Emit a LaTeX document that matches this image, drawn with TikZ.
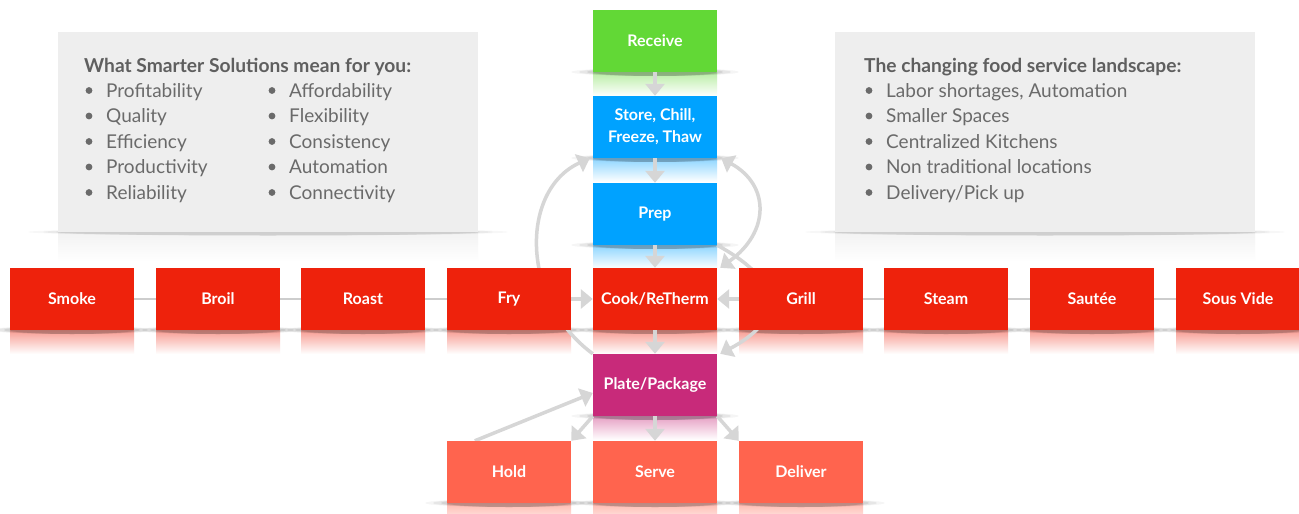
\documentclass[tikz,border=0pt]{standalone}
\usepackage{fontspec}
\setmainfont{Lato}
\usetikzlibrary{arrows.meta}

\definecolor{rcvgreen}{HTML}{62D836}
\definecolor{stepblue}{HTML}{00A2FF}
\definecolor{cookred}{HTML}{EE220C}
\definecolor{platemag}{HTML}{C82A7A}
\definecolor{outsalmon}{HTML}{FF644E}
\definecolor{linkgrey}{HTML}{D6D6D6}
\definecolor{panelgrey}{HTML}{EEEEEE}
\definecolor{paneltext}{HTML}{6A6A6A}

\pgfdeclarelayer{paper}
\pgfdeclarelayer{refl}
\pgfdeclarelayer{conn}
\pgfsetlayers{paper,refl,conn,main}

% box with a soft mirror reflection and a floor shadow under it
\newcommand{\procbox}[5]{%
  \begin{pgfonlayer}{refl}
    \shade[top color=#4!45, bottom color=white] (#2-62,#3+31) rectangle (#2+62,#3+55);
    \foreach \rr/\oo in {84/0.04, 76/0.06, 68/0.08, 62/0.10}
      \fill[black, opacity=\oo] (#2,#3+31) ellipse [x radius=\rr pt, y radius=4pt];
  \end{pgfonlayer}
  \node[procstyle, fill=#4] (#1) at (#2,#3) {#5};
}

\begin{document}
\begin{tikzpicture}[x=1pt, y=-1pt,
  procstyle/.style={minimum width=124pt, minimum height=62pt, inner sep=0pt,
    text=white, align=center, font=\bfseries\fontsize{16}{22}\selectfont},
  panelstyle/.style={fill=panelgrey, minimum width=420pt, minimum height=200pt, inner sep=0pt},
  ptitle/.style={anchor=base west, inner sep=0pt, text=paneltext!90!black,
    font=\bfseries\fontsize{19.2}{22}\selectfont},
  pitem/.style={anchor=base west, inner sep=0pt, text=paneltext,
    font=\fontsize{19}{22}\selectfont},
  link/.style={draw=linkgrey, line width=3.5pt},
  flow/.style={link, -{Triangle[length=12pt, width=19pt]}},
  rowlink/.style={draw=linkgrey!90!gray, line width=2.5pt}
]
\useasboundingbox (0,0) rectangle (1299,514);
\begin{pgfonlayer}{paper}
  \fill[white] (0,0) rectangle (1299,514);
\end{pgfonlayer}

% side panels with their faint reflections
\begin{pgfonlayer}{refl}
  \foreach \cx in {268, 1045} {
    \shade[top color=black!5, bottom color=white] (\cx-210,232) rectangle (\cx+210,262);
    \foreach \rr/\oo in {240/0.03, 225/0.05, 212/0.07}
      \fill[black, opacity=\oo] (\cx,232) ellipse [x radius=\rr pt, y radius=3.5pt];
  }
\end{pgfonlayer}
\node[panelstyle] (leftpanel) at (268,132) {};
\node[panelstyle] (rightpanel) at (1045,132) {};

\node[ptitle] (lefttitle) at (84,72) {What Smarter Solutions mean for you:};
\foreach \t [count=\i] in {Profitability, Quality, Efficiency, Productivity, Reliability} {
  \fill[paneltext] (89,97+25.5*\i-25.5-6.5) circle (3.4pt);
  \node[pitem] (la\i) at (106,97+25.5*\i-25.5) {\t};
}
\foreach \t [count=\i] in {Affordability, Flexibility, Consistency, Automation, Connectivity} {
  \fill[paneltext] (272,97+25.5*\i-25.5-6.5) circle (3.4pt);
  \node[pitem] (lb\i) at (289,97+25.5*\i-25.5) {\t};
}

\node[ptitle] (righttitle) at (864,72) {The changing food service landscape:};
\foreach \t [count=\i] in {{Labor shortages, Automation}, Smaller Spaces, Centralized Kitchens, Non traditional locations, Delivery/Pick up} {
  \fill[paneltext] (869,97+25.5*\i-25.5-6.5) circle (3.4pt);
  \node[pitem] (r\i) at (886,97+25.5*\i-25.5) {\t};
}

% process boxes
\procbox{receive}{655}{41}{rcvgreen}{Receive}
\procbox{store}{655}{127}{stepblue}{Store, Chill,\\Freeze, Thaw}
\procbox{prep}{655}{214}{stepblue}{Prep}

\procbox{smoke}{72}{299}{cookred}{Smoke}
\procbox{broil}{218}{299}{cookred}{Broil}
\procbox{roast}{363}{299}{cookred}{Roast}
\procbox{fry}{509}{299}{cookred}{Fry}
\procbox{cook}{655}{299}{cookred}{Cook/ReTherm}
\procbox{grill}{801}{299}{cookred}{Grill}
\procbox{steam}{946}{299}{cookred}{Steam}
\procbox{saute}{1092}{299}{cookred}{Sautée}
\procbox{sousvide}{1238}{299}{cookred}{Sous Vide}

\procbox{plate}{655}{385}{platemag}{Plate/Package}

\procbox{hold}{509}{472}{outsalmon}{Hold}
\procbox{serve}{655}{472}{outsalmon}{Serve}
\procbox{deliver}{801}{472}{outsalmon}{Deliver}

% connectors
\begin{pgfonlayer}{conn}
  \draw[flow] (receive.south) -- (store.north);
  \draw[flow] (store.south) -- (prep.north);
  \draw[flow] (prep.south) -- (cook.north);
  \draw[flow] (cook.south) -- (plate.north);
  \draw[flow] (plate.south) -- (serve.north);
  \draw[flow] (plate.south west) -- (hold.north east);
  \draw[flow] (plate.south east) -- (deliver.north west);
  \draw[flow] ([xshift=28pt]hold.north west) -- ([yshift=-8pt]plate.west);

  \draw[flow] (fry.east) -- (cook.west);
  \draw[flow] (grill.west) -- (cook.east);

  \draw[rowlink] (smoke.east) -- (broil.west);
  \draw[rowlink] (broil.east) -- (roast.west);
  \draw[rowlink] (roast.east) -- (fry.west);
  \draw[rowlink] (grill.east) -- (steam.west);
  \draw[rowlink] (steam.east) -- (saute.west);
  \draw[rowlink] (saute.east) -- (sousvide.west);

  % loops back up to storage
  \draw[flow] (plate.north west) .. controls (520,300) and (520,190) .. ([xshift=-3pt]store.south west);
  \draw[link, {Triangle[length=12pt, width=19pt]}-{Triangle[length=12pt, width=19pt]}]
    ([xshift=4pt]store.south east) .. controls (770,185) and (770,232) .. ([xshift=3pt]cook.north east);
  \draw[flow] (prep.south east) .. controls (790,285) and (780,322) .. ([xshift=3pt]plate.north east);
\end{pgfonlayer}
\end{tikzpicture}
\end{document}
